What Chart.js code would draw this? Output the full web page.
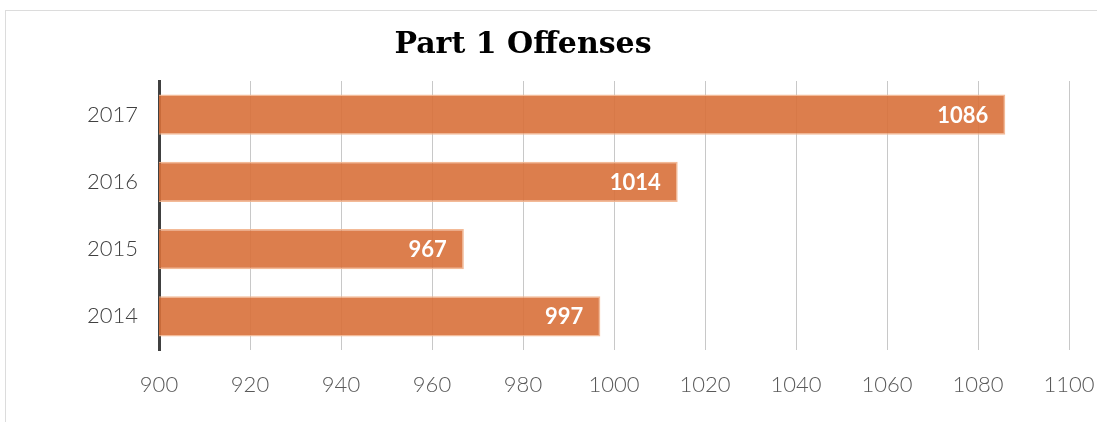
<!DOCTYPE html>
<html>
<head>
<meta charset="utf-8">
<title>Part 1 Offenses</title>
<script src="https://cdn.jsdelivr.net/npm/chart.js@4/dist/chart.umd.min.js"></script>
<style>
  body { margin: 0; background: #fff; }
  #frame { position: absolute; left: 5px; top: 10px; width: 1200px; height: 500px; border: 1px solid #dcdcdc; }
  #wrap { position: absolute; left: 0; top: 0; width: 1097px; height: 422px; }
</style>
</head>
<body>
<div id="frame"></div>
<div id="wrap"><canvas id="offenses"></canvas></div>
<script>
const years = ["2017", "2016", "2015", "2014"];
const offenses = [1086, 1014, 967, 997];
const xTicks = [900, 920, 940, 960, 980, 1000, 1020, 1040, 1060, 1080, 1100];

// title sits a bit left of the canvas centre, so draw it by hand
const titlePlugin = {
  id: "titleText",
  afterDraw(chart) {
    const ctx = chart.ctx;
    ctx.save();
    ctx.font = "bold 30px 'DejaVu Serif'";
    ctx.fillStyle = "#000";
    ctx.textAlign = "center";
    ctx.textBaseline = "middle";
    ctx.fillText("Part 1 Offenses", 523, 45);
    ctx.restore();
  }
};

// white value labels inside the end of each bar
const barLabels = {
  id: "barLabels",
  afterDatasetsDraw(chart) {
    const ctx = chart.ctx;
    const meta = chart.getDatasetMeta(0);
    ctx.save();
    ctx.font = "bold 22px Lato";
    ctx.fillStyle = "#fff";
    ctx.textAlign = "right";
    ctx.textBaseline = "middle";
    meta.data.forEach((bar, i) => {
      ctx.fillText(offenses[i], bar.x - 17, bar.y + 1);
    });
    ctx.restore();
  }
};

const data_offenses = {
  labels: years,
  datasets: [
    {
      data: offenses,
      backgroundColor: "rgba(216,112,58,0.9)",
      borderColor: "rgba(242,178,140,0.9)",
      borderWidth: 1.5,
      borderSkipped: "start",
      categoryPercentage: 1,
      barPercentage: 0.6,
    },
  ],
};

const config_offenses = {
  type: "bar",
  data: data_offenses,
  options: {
    indexAxis: "y",
    responsive: true,
    maintainAspectRatio: false,
    animation: false,
    layout: { padding: { top: 81, right: 28, left: 0, bottom: 0 } },
    plugins: {
      legend: { display: false },
      title: { display: false },
      tooltip: { enabled: false },
    },
    scales: {
      x: {
        min: 900,
        max: 1100,
        afterBuildTicks(scale) {
          scale.ticks = xTicks.map(v => ({ value: v }));
        },
        afterFit(scale) {
          scale.height = 72;
          scale.paddingLeft = 0;
          scale.paddingRight = 0;
        },
        grid: { color: "#c8c8c8", lineWidth: 1, drawTicks: false },
        border: { display: false },
        ticks: {
          padding: 22,
          color: "#595959",
          font: { family: "Lato", size: 22, weight: "300" },
          callback: v => String(v),
        },
      },
      y: {
        afterFit(scale) { scale.width = 159; },
        grid: { display: false, drawTicks: false },
        border: { display: true, color: "#404040", width: 3 },
        ticks: {
          padding: 21,
          color: "#404040",
          font: { family: "Lato", size: 22, weight: "300" },
        },
      },
    },
  },
  plugins: [titlePlugin, barLabels],
};

const canvas = document.getElementById("offenses");
const chart = new Chart(canvas, config_offenses);
</script>
</body>
</html>
